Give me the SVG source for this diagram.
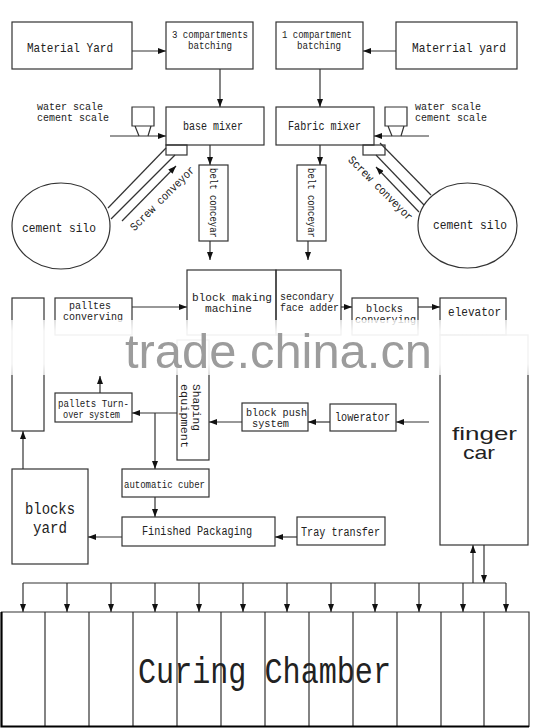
<svg xmlns="http://www.w3.org/2000/svg" width="554" height="728" viewBox="0 0 554 728">
<style>
.b{fill:none;stroke:#333;stroke-width:1.2}
.l{fill:none;stroke:#333;stroke-width:1.2}
.a{fill:none;stroke:#333;stroke-width:1.2;marker-end:url(#ah)}
.m{font-family:"Liberation Mono","DejaVu Sans Mono",monospace;fill:#222}
.s{font-family:"Liberation Sans",Arial,sans-serif;fill:#222}
</style>
<defs>
<marker id="ah" viewBox="0 0 8 6" markerWidth="8" markerHeight="6" refX="8" refY="3" orient="auto" markerUnits="userSpaceOnUse"><path d="M0,0L8,3L0,6z" fill="#111"/></marker>
<linearGradient id="band" x1="0" y1="0" x2="0" y2="1"><stop offset="0" stop-color="#fff" stop-opacity="0.75"/><stop offset="0.2" stop-color="#fff" stop-opacity="0.93"/><stop offset="0.8" stop-color="#fff" stop-opacity="0.93"/><stop offset="1" stop-color="#fff" stop-opacity="0.75"/></linearGradient>
</defs>
<rect width="554" height="728" fill="#fff"/>

<g id="connectors">
<line class="a" x1="132" y1="51" x2="166" y2="51"/>
<line class="a" x1="396" y1="51" x2="363" y2="51"/>
<line class="a" x1="220" y1="69" x2="220" y2="107"/>
<line class="a" x1="320" y1="69" x2="320" y2="107"/>
<line class="a" x1="110" y1="136" x2="166" y2="136"/>
<line class="a" x1="429" y1="136" x2="374" y2="136"/>
<line class="a" x1="210" y1="145" x2="210" y2="165"/>
<line class="a" x1="210" y1="241" x2="210" y2="260"/>
<line class="a" x1="320" y1="145" x2="320" y2="165"/>
<line class="a" x1="308" y1="241" x2="308" y2="260"/>
<line class="l" x1="108" y1="208" x2="166" y2="148"/>
<line class="l" x1="111" y1="219" x2="175" y2="155"/>
<line class="a" x1="122" y1="221" x2="176" y2="166"/>
<line class="l" x1="380" y1="143" x2="431" y2="195"/>
<line class="l" x1="376" y1="155" x2="424" y2="205"/>
<line class="a" x1="419" y1="212" x2="376" y2="167"/>
<line class="a" x1="132" y1="307" x2="187" y2="307"/>
<line class="a" x1="341" y1="307" x2="352" y2="307"/>
<line class="a" x1="418" y1="307" x2="440" y2="307"/>
<line class="a" x1="100" y1="393" x2="100" y2="376"/>
<line class="a" x1="177" y1="413" x2="132" y2="413"/>
<polyline class="a" points="155,413 155,469"/>
<line class="a" x1="242" y1="422" x2="209" y2="422"/>
<line class="a" x1="330" y1="422" x2="308" y2="422"/>
<line class="a" x1="429" y1="422" x2="396" y2="422"/>
<line class="a" x1="155" y1="497" x2="155" y2="517"/>
<line class="a" x1="122" y1="537" x2="88" y2="537"/>
<line class="a" x1="297" y1="537" x2="275" y2="537"/>
<line class="a" x1="23" y1="469" x2="23" y2="431"/>
<line class="a" x1="473" y1="583" x2="473" y2="545"/>
<line class="a" x1="484" y1="545" x2="484" y2="583"/>
<line class="l" x1="23" y1="583" x2="506" y2="583"/>
<line class="a" x1="23" y1="583" x2="23" y2="612"/>
<line class="a" x1="67" y1="583" x2="67" y2="612"/>
<line class="a" x1="111" y1="583" x2="111" y2="612"/>
<line class="a" x1="155" y1="583" x2="155" y2="612"/>
<line class="a" x1="199" y1="583" x2="199" y2="612"/>
<line class="a" x1="243" y1="583" x2="243" y2="612"/>
<line class="a" x1="287" y1="583" x2="287" y2="612"/>
<line class="a" x1="331" y1="583" x2="331" y2="612"/>
<line class="a" x1="375" y1="583" x2="375" y2="612"/>
<line class="a" x1="419" y1="583" x2="419" y2="612"/>
<line class="a" x1="463" y1="583" x2="463" y2="612"/>
<line class="a" x1="506" y1="583" x2="506" y2="612"/>
</g>

<g id="material-yard"><rect class="b" x="12" y="22" width="120" height="47"/><text class="m" x="27" y="52" font-size="13" textLength="86" lengthAdjust="spacingAndGlyphs">Material Yard</text></g>
<g id="batch3"><rect class="b" x="166" y="22" width="87" height="47"/><text class="m" x="172" y="38" font-size="10.5" textLength="76" lengthAdjust="spacingAndGlyphs">3 compartments</text><text class="m" x="188" y="49" font-size="10.5" textLength="44" lengthAdjust="spacingAndGlyphs">batching</text></g>
<g id="batch1"><rect class="b" x="276" y="22" width="87" height="47"/><text class="m" x="282" y="38" font-size="10.5" textLength="70" lengthAdjust="spacingAndGlyphs">1 compartment</text><text class="m" x="297" y="49" font-size="10.5" textLength="44" lengthAdjust="spacingAndGlyphs">batching</text></g>
<g id="materrial-yard"><rect class="b" x="396" y="22" width="121" height="47"/><text class="m" x="412" y="52" font-size="13" textLength="94" lengthAdjust="spacingAndGlyphs">Materrial yard</text></g>

<g id="scale-left"><path class="l" d="M132,107H154V126H132Z M135,126L139,136 M151,126L148,136"/><text class="m" x="37" y="110" font-size="10.5" textLength="66" lengthAdjust="spacingAndGlyphs">water scale</text><text class="m" x="37" y="121" font-size="10.5" textLength="72" lengthAdjust="spacingAndGlyphs">cement scale</text></g>
<g id="scale-right"><path class="l" d="M385,107H407V126H385Z M388,126L392,136 M404,126L401,136"/><text class="m" x="415" y="110" font-size="10.5" textLength="66" lengthAdjust="spacingAndGlyphs">water scale</text><text class="m" x="415" y="121" font-size="10.5" textLength="72" lengthAdjust="spacingAndGlyphs">cement scale</text></g>

<g id="base-mixer"><rect class="b" x="166" y="107" width="98" height="38"/><rect class="b" x="166" y="145" width="21" height="10"/><text class="m" x="183" y="130" font-size="12" textLength="60" lengthAdjust="spacingAndGlyphs">base mixer</text></g>
<g id="fabric-mixer"><rect class="b" x="276" y="107" width="98" height="38"/><rect class="b" x="363" y="145" width="22" height="10"/><text class="m" x="288" y="130" font-size="12" textLength="73" lengthAdjust="spacingAndGlyphs">Fabric mixer</text></g>

<g id="screw-left"><text class="m" font-size="11.5" text-anchor="middle" transform="translate(165,201) rotate(-45)" textLength="86" lengthAdjust="spacingAndGlyphs">Screw conveyor</text></g>
<g id="screw-right"><text class="m" font-size="11.5" text-anchor="middle" transform="translate(378,191) rotate(45)" textLength="86" lengthAdjust="spacingAndGlyphs">Screw conveyor</text></g>

<g id="silo-left"><ellipse class="b" cx="61" cy="226" rx="49" ry="43"/><text class="m" x="22" y="232" font-size="12.5" textLength="74" lengthAdjust="spacingAndGlyphs">cement silo</text></g>
<g id="silo-right"><ellipse class="b" cx="467.5" cy="225.5" rx="49.5" ry="42.5"/><text class="m" x="433" y="229" font-size="12.5" textLength="74" lengthAdjust="spacingAndGlyphs">cement silo</text></g>

<g id="belt-left"><rect class="b" x="199" y="165" width="29" height="76"/><text class="m" font-size="11" transform="translate(210,168) rotate(90)" textLength="70" lengthAdjust="spacingAndGlyphs">belt conceyar</text></g>
<g id="belt-right"><rect class="b" x="297" y="165" width="29" height="76"/><text class="m" font-size="11" transform="translate(308,168) rotate(90)" textLength="70" lengthAdjust="spacingAndGlyphs">belt conceyar</text></g>

<g id="block-machine"><rect class="b" x="187" y="270" width="89" height="65"/><text class="m" x="192" y="301" font-size="11" textLength="80" lengthAdjust="spacingAndGlyphs">block making</text><text class="m" x="205" y="312" font-size="11" textLength="47" lengthAdjust="spacingAndGlyphs">machine</text></g>
<g id="face-adder"><rect class="b" x="276" y="270" width="65" height="65"/><text class="m" x="280" y="300" font-size="10.5" textLength="54" lengthAdjust="spacingAndGlyphs">secondary</text><text class="m" x="280" y="311" font-size="10.5" textLength="59" lengthAdjust="spacingAndGlyphs">face adder</text></g>
<g id="stack"><rect class="b" x="12" y="298" width="32" height="133"/></g>
<g id="pallets-conveying"><rect class="b" x="55" y="298" width="77" height="37"/><text class="m" x="69" y="309" font-size="10.5" textLength="42" lengthAdjust="spacingAndGlyphs">palltes</text><text class="m" x="63" y="320" font-size="10.5" textLength="60" lengthAdjust="spacingAndGlyphs">converving</text></g>
<g id="blocks-conveying"><rect class="b" x="352" y="298" width="66" height="37"/><text class="m" x="366" y="312" font-size="10.5" textLength="37" lengthAdjust="spacingAndGlyphs">blocks</text><text class="m" x="355" y="323" font-size="10.5" textLength="61" lengthAdjust="spacingAndGlyphs">converying</text></g>
<g id="elevator"><rect class="b" x="440" y="298" width="66" height="37"/><text class="m" x="448" y="316" font-size="12" textLength="53" lengthAdjust="spacingAndGlyphs">elevator</text></g>
<g id="finger-car"><rect class="b" x="440" y="335" width="88" height="210"/><text class="s" x="484.5" y="440" font-size="19" text-anchor="middle" textLength="65" lengthAdjust="spacingAndGlyphs">finger</text><text class="s" x="479" y="459" font-size="19" text-anchor="middle" textLength="32" lengthAdjust="spacingAndGlyphs">car</text></g>

<g id="turnover"><rect class="b" x="55" y="393" width="77" height="29"/><text class="m" x="58" y="407" font-size="10" textLength="71" lengthAdjust="spacingAndGlyphs">pallets Turn-</text><text class="m" x="63" y="418" font-size="10" textLength="57" lengthAdjust="spacingAndGlyphs">over system</text></g>
<g id="shaping"><rect class="b" x="177" y="340" width="32" height="120"/><text class="m" font-size="11.5" transform="translate(193,384) rotate(90)" textLength="47" lengthAdjust="spacingAndGlyphs">Shaping</text><text class="m" font-size="11.5" transform="translate(181,384) rotate(90)" textLength="64" lengthAdjust="spacingAndGlyphs">equipment</text></g>
<g id="block-push"><rect class="b" x="242" y="403" width="66" height="28"/><text class="m" x="246" y="416" font-size="10.5" textLength="61" lengthAdjust="spacingAndGlyphs">block push</text><text class="m" x="252" y="427" font-size="10.5" textLength="37" lengthAdjust="spacingAndGlyphs">system</text></g>
<g id="lowerator"><rect class="b" x="330" y="404" width="66" height="27"/><text class="m" x="335" y="421" font-size="12" textLength="55" lengthAdjust="spacingAndGlyphs">lowerator</text></g>

<g id="cuber"><rect class="b" x="122" y="469" width="87" height="28"/><text class="m" x="124" y="488" font-size="10.5" textLength="81" lengthAdjust="spacingAndGlyphs">automatic cuber</text></g>
<g id="packaging"><rect class="b" x="122" y="517" width="153" height="29"/><text class="m" x="142" y="535" font-size="12" textLength="110" lengthAdjust="spacingAndGlyphs">Finished Packaging</text></g>
<g id="tray"><rect class="b" x="297" y="517" width="88" height="28"/><text class="m" x="301" y="536" font-size="12" textLength="79" lengthAdjust="spacingAndGlyphs">Tray transfer</text></g>
<g id="blocks-yard"><rect class="b" x="12" y="469" width="76" height="95"/><text class="m" x="25" y="514" font-size="16" textLength="50" lengthAdjust="spacingAndGlyphs">blocks</text><text class="m" x="33" y="533" font-size="16" textLength="34" lengthAdjust="spacingAndGlyphs">yard</text></g>

<g id="curing-chamber">
<path class="l" d="M45,612V727M89,612V727M133,612V727M177,612V727M221,612V727M265,612V727M309,612V727M353,612V727M397,612V727M441,612V727M484,612V727"/>
<path fill="none" stroke="#333" stroke-width="1.2" d="M1,612H529V727"/>
<path fill="none" stroke="#000" stroke-width="2.2" d="M1.5,612V726.5H529"/>
<text class="m" x="138" y="683" font-size="36" textLength="253" lengthAdjust="spacingAndGlyphs">Curing Chamber</text>
</g>

<g id="watermark">
<rect x="0" y="320" width="554" height="55" fill="url(#band)"/>
<text x="125" y="368" font-family="'Liberation Sans',Arial,sans-serif" font-size="48" fill="#9c9c9c" textLength="307" lengthAdjust="spacingAndGlyphs">trade.china.cn</text>
</g>
</svg>
